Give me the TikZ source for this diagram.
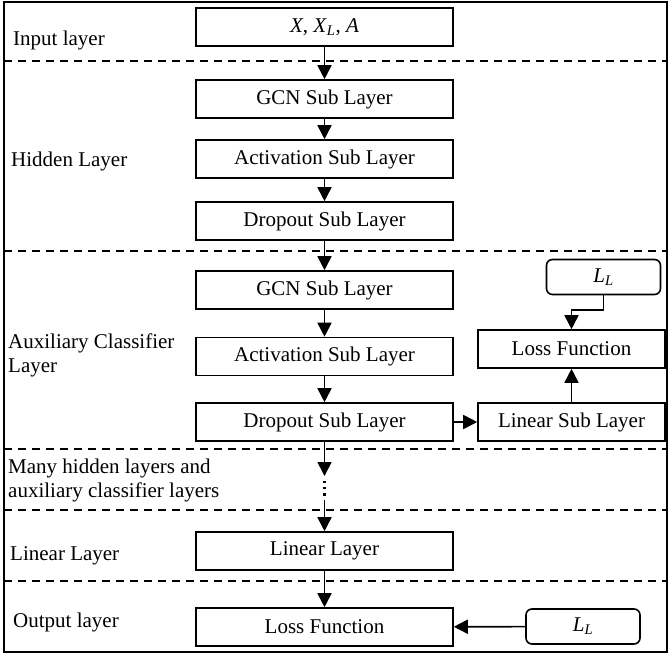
\documentclass[tikz,border=0pt]{standalone}
\usepackage{fontspec}
\setmainfont{Liberation Serif}
\usetikzlibrary{arrows.meta}
\begin{document}
\begin{tikzpicture}[x=1pt,y=-1pt,
  box/.style={draw,line width=1.6pt,minimum width=257pt,minimum height=38pt,inner sep=0pt,font=\fontsize{21}{24}\selectfont},
  sbox/.style={draw,line width=1.6pt,minimum width=187pt,minimum height=38pt,inner sep=0pt,font=\fontsize{21}{24}\selectfont},
  rbox/.style={draw,line width=1.6pt,rounded corners=6pt,minimum width=114pt,minimum height=35pt,inner sep=0pt,font=\fontsize{21}{24}\selectfont},
  lab/.style={anchor=west,inner sep=0pt,align=left,font=\fontsize{21}{24}\selectfont},
  arr/.style={line width=1.7pt,-{Triangle[length=14pt,width=14pt]}},
  sep/.style={line width=1.5pt,dash pattern=on 8pt off 6pt}]
\useasboundingbox (0,0) rectangle (669,654);
\draw[line width=1.6pt] (4,2) rectangle (667,652);
\foreach \yy in {61,251,449,510,581} \draw[sep] (4,\yy) -- (667,\yy);
% left labels
\node[lab] (lin) at (13,40) {Input layer};
\node[lab] (lhid) at (11,161) {Hidden Layer};
\node[lab] (laux) at (8,355) {Auxiliary Classifier\\Layer};
\node[lab] (lmany) at (8,480) {Many hidden layers and\\auxiliary classifier layers};
\node[lab] (llin) at (10,556) {Linear Layer};
\node[lab] (lout) at (13,622) {Output layer};
% main column
\node[box] (in) at (324.5,27) {\textit{X}, \textit{X}\textsubscript{\textit{L}}, \textit{A}};
\node[box] (h1) at (324.5,99) {GCN Sub Layer};
\node[box] (h2) at (324.5,159) {Activation Sub Layer};
\node[box] (h3) at (324.5,221) {Dropout Sub Layer};
\node[box] (a1) at (324.5,290) {GCN Sub Layer};
\node[box] (a2) at (324.5,356.5) {Activation Sub Layer};
\node[box] (a3) at (324.5,422) {Dropout Sub Layer};
\node[box] (lnl) at (324.5,551) {Linear Layer};
\node[box] (out) at (324.5,627) {Loss Function};
% right side
\node[rbox] (ll1) at (603.5,277) {\textit{L}\textsubscript{\textit{L}}};
\node[sbox] (loss) at (571.5,349) {Loss Function};
\node[sbox] (lsub) at (571.5,422) {Linear Sub Layer};
\node[rbox] (ll2) at (583,626.5) {\textit{L}\textsubscript{\textit{L}}};
% coordinates for the dotted part
\coordinate (d1) at (324.5,476);
\coordinate (d2) at (324.5,500);
% connectors
\draw[arr] (in) -- (h1);
\draw[arr] (h1) -- (h2);
\draw[arr] (h2) -- (h3);
\draw[arr] (h3) -- (a1);
\draw[arr] (a1) -- (a2);
\draw[arr] (a2) -- (a3);
\draw[arr] (a3) -- (d1);
\draw[line width=2.2pt,dash pattern=on 2.2pt off 4pt] (324.5,481) -- (324.5,497);
\draw[arr] (d2) -- (lnl);
\draw[arr] (lnl) -- (out);
\draw[arr] (a3) -- (lsub);
\draw[arr] (lsub) -- (loss);
\draw[arr] (ll1.south) -- ++(0,15) -| (loss.north);
\draw[arr] (ll2) -- (out);
\end{tikzpicture}
\end{document}
